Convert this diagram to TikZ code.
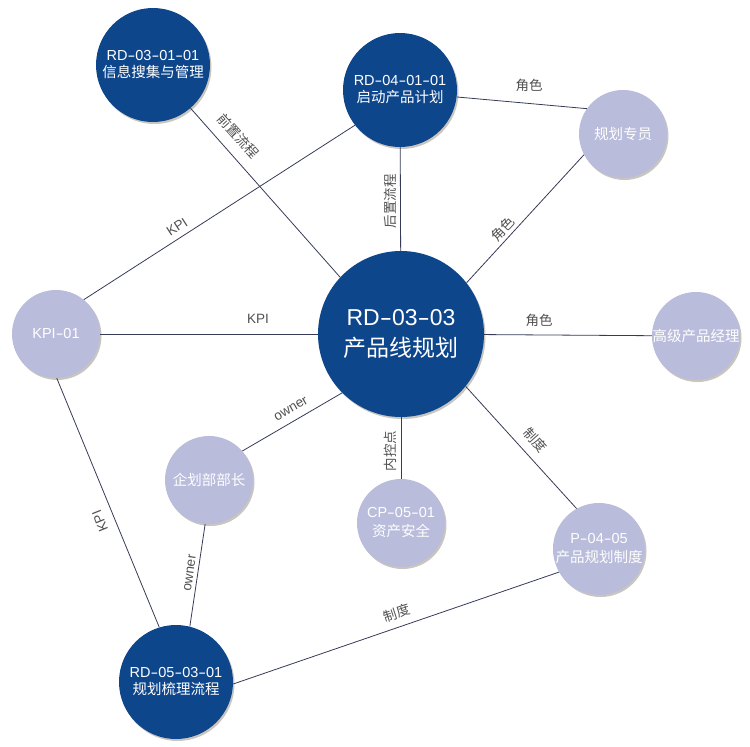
\documentclass[tikz,border=0pt]{standalone}
\usepackage{fontspec}
\setmainfont{Liberation Sans}
\newfontfamily\cjk{Noto Sans CJK SC}
\usetikzlibrary{shadows}
\newcommand\hy{\scalebox{1.6}[1]{-}}
\definecolor{darkblue}{HTML}{0E468C}
\definecolor{lilac}{HTML}{B9BCDB}
\definecolor{edgecol}{HTML}{363B57}
\definecolor{lblcol}{HTML}{505050}
\definecolor{shadowcol}{HTML}{9C968A}
\tikzset{
  shad/.style={drop shadow={shadow xshift=1.5pt, shadow yshift=-2pt, fill=shadowcol, opacity=0.55}},
  centernode/.style={circle, fill=darkblue, text=white, minimum size=166pt, inner sep=0pt, align=center, font=\fontsize{23}{33}\selectfont, shad},
  darknode/.style={circle, fill=darkblue, text=white, minimum size=114pt, inner sep=0pt, align=center, font=\fontsize{14.5}{19}\selectfont, shad},
  lightnode/.style={circle, fill=lilac, text=white, minimum size=88pt, inner sep=0pt, align=center, font=\fontsize{14.5}{19}\selectfont, shad},
  conn/.style={draw=edgecol, line width=0.8pt},
  lbl/.style={text=lblcol, inner sep=0pt, font=\fontsize{13.5}{15}\selectfont},
  cjklbl/.style={text=lblcol, inner sep=0pt, font=\cjk\fontsize{13.5}{15}\selectfont}
}
\begin{document}
\begin{tikzpicture}[x=1pt, y=-1pt]
\useasboundingbox (0,0) rectangle (750,747);
% nodes
\node[centernode] (c) at (401,334) {\raisebox{13pt}{\begin{tabular}{@{}c@{}}RD\hy03\hy03\\[-2pt]{\cjk 产品线规划}\end{tabular}}};
\node[darknode] (a) at (153,65) {\raisebox{-3pt}{\begin{tabular}{@{}c@{}}RD\hy03\hy01\hy01\\[-2pt]{\cjk 信息搜集与管理}\end{tabular}}};
\node[darknode] (b) at (400,90) {\raisebox{-3pt}{\begin{tabular}{@{}c@{}}RD\hy04\hy01\hy01\\[-2pt]{\cjk 启动产品计划}\end{tabular}}};
\node[darknode] (e) at (176,682) {\raisebox{-3pt}{\begin{tabular}{@{}c@{}}RD\hy05\hy03\hy01\\[-2pt]{\cjk 规划梳理流程}\end{tabular}}};
\node[lightnode] (g) at (623,134) {\cjk 规划专员};
\node[lightnode] (h) at (696,336) {\cjk 高级产品经理};
\node[lightnode] (k) at (56,334) {KPI\hy01};
\node[lightnode] (q) at (209,480) {\cjk 企划部部长};
\node[lightnode] (s) at (401,523) {CP\hy05\hy01\\{\cjk 资产安全}};
\node[lightnode] (p) at (599,549) {P\hy04\hy05\\{\cjk 产品规划制度}};
% connectors
\draw[conn] (a.-49) -- (c.137);
\draw[conn] (b.218) -- (k.51);
\draw[conn] (k) -- (c);
\draw[conn] (b) -- (c);
\draw[conn] (b.-7) -- (g.145);
\draw[conn] (c.38) -- (g.208);
\draw[conn] (c) -- (h);
\draw[conn] (c.225) -- (q.41);
\draw[conn] (c) -- (s);
\draw[conn] (c.-39) -- (p.119);
\draw[conn] (k.-89) -- (e.107);
\draw[conn] (q.-95) -- (e.76);
\draw[conn] (e.-2) -- (p.210);
% labels
\node[cjklbl, rotate=-48] (l1) at (238,136) {前置流程};
\node[lbl, rotate=33] (l2) at (177,227) {KPI};
\node[lbl] (l3) at (258,319) {KPI};
\node[cjklbl, rotate=90] (l4) at (390,201) {后置流程};
\node[cjklbl] (l5) at (529,85) {角色};
\node[cjklbl, rotate=47] (l6) at (503,229) {角色};
\node[cjklbl] (l7) at (539,320) {角色};
\node[lbl, rotate=30] (l8) at (291,409) {owner};
\node[cjklbl, rotate=90] (l9) at (390,451) {内控点};
\node[cjklbl, rotate=-48] (l10) at (535,440) {制度};
\node[lbl, rotate=112] (l11) at (100,521) {KPI};
\node[lbl, rotate=82] (l12) at (190,573) {owner};
\node[cjklbl, rotate=18] (l13) at (397,613) {制度};
\end{tikzpicture}
\end{document}
